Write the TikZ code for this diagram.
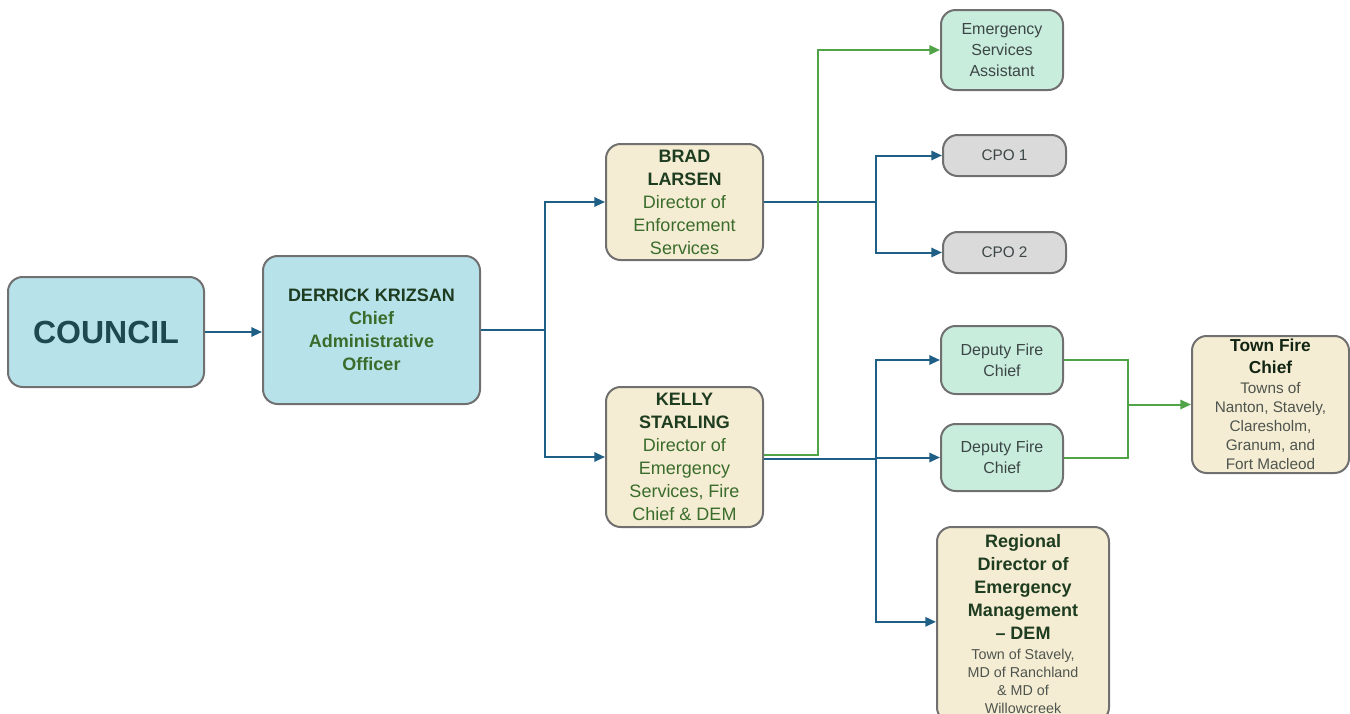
\documentclass[tikz,border=0pt]{standalone}
\usepackage{fontspec}
\setmainfont{Liberation Sans}
\usetikzlibrary{arrows.meta}

\definecolor{ceoblue}{RGB}{184,226,234}
\definecolor{dirbeige}{RGB}{245,237,211}
\definecolor{staffmint}{RGB}{201,237,221}
\definecolor{cpogray}{RGB}{218,218,218}
\definecolor{boxedge}{RGB}{112,112,112}
\definecolor{linkblue}{RGB}{31,95,134}
\definecolor{linkgreen}{RGB}{80,163,70}
\definecolor{namegreen}{RGB}{30,60,32}
\definecolor{rolegreen}{RGB}{58,108,44}
\definecolor{councilink}{RGB}{28,72,78}
\definecolor{staffink}{RGB}{60,70,70}
\definecolor{noteink}{RGB}{78,84,78}

\begin{document}
\begin{tikzpicture}[
        x=0.75pt,
        y=-0.75pt,
        every node/.style={align=center,inner sep=0pt},
        org box/.style={draw=boxedge,line width=1.5pt,rounded corners=11pt},
        cao box/.style={org box,fill=ceoblue},
        director box/.style={org box,fill=dirbeige,minimum width=117.75pt},
        staff box/.style={org box,fill=staffmint,minimum width=91.5pt,text=staffink,
            font=\fontsize{12}{16}\selectfont},
        cpo box/.style={org box,fill=cpogray,minimum width=92.25pt,minimum height=30.75pt,
            text=staffink,font=\fontsize{11.5}{14}\selectfont},
        big/.style={font=\fontsize{13.5}{17.25}\selectfont},
        blue line/.style={linkblue,line width=1.5pt},
        green line/.style={linkgreen,line width=1.5pt},
        blue arrow/.style={blue line,-{Triangle[length=8pt,width=7pt]}},
        green arrow/.style={green line,-{Triangle[length=8pt,width=7pt]}}
    ]
        \useasboundingbox (0,0) rectangle (1350,714);
        \clip (0,0) rectangle (1350,714);

        \node[cao box,minimum width=147pt,minimum height=82.5pt,text=councilink,
            font=\fontsize{24}{28}\selectfont\bfseries] (council) at (106,332) {COUNCIL};
        \node[cao box,big,minimum width=162.75pt,minimum height=111pt] (cao) at (371.5,330)
            {\textbf{\color{namegreen}DERRICK KRIZSAN}\\ \color{rolegreen}\bfseries Chief\\
             \color{rolegreen}\bfseries Administrative\\ \color{rolegreen}\bfseries Officer};

        \node[director box,big,minimum height=87pt] (brad) at (684.5,202)
            {\textbf{\color{namegreen}BRAD}\\ \textbf{\color{namegreen}LARSEN}\\
             \color{rolegreen}Director of\\ \color{rolegreen}Enforcement\\ \color{rolegreen}Services};
        \node[director box,big,minimum height=105pt] (kelly) at (684.5,457)
            {\textbf{\color{namegreen}KELLY}\\ \textbf{\color{namegreen}STARLING}\\
             \color{rolegreen}Director of\\ \color{rolegreen}Emergency\\
             \color{rolegreen}Services, Fire\\ \color{rolegreen}Chief \& DEM};

        \node[staff box,minimum height=60pt] (esa) at (1002,50) {Emergency\\ Services\\ Assistant};
        \node[cpo box] (cpo1) at (1004.5,155.5) {CPO 1};
        \node[cpo box] (cpo2) at (1004.5,252.5) {CPO 2};
        \node[staff box,minimum height=51pt] (dep1) at (1002,360) {Deputy Fire\\ Chief};
        \node[staff box,minimum height=50.25pt] (dep2) at (1002,457.5) {Deputy Fire\\ Chief};

        \node[director box,minimum height=102.75pt,font=\fontsize{11.5}{14.25}\selectfont]
            (tfc) at (1270.5,404.5)
            {{\fontsize{13}{16}\selectfont\bfseries\color{namegreen!60!black}Town Fire}\\[2.25pt]
             {\fontsize{13}{16}\selectfont\bfseries\color{namegreen!60!black}Chief}\\[0.5pt]
             \color{noteink}Towns of\\ \color{noteink}Nanton, Stavely,\\
             \color{noteink}Claresholm,\\ \color{noteink}Granum, and\\ \color{noteink}Fort Macleod};
        \node[director box,minimum width=129pt,minimum height=146.25pt,
            font=\fontsize{10.75}{13.5}\selectfont] (rdem) at (1023,624.5)
            {{\fontsize{13.5}{16}\selectfont\bfseries\color{namegreen}Regional}\\[3.75pt]
             {\fontsize{13.5}{16}\selectfont\bfseries\color{namegreen}Director of}\\[3.75pt]
             {\fontsize{13.5}{16}\selectfont\bfseries\color{namegreen}Emergency}\\[3.75pt]
             {\fontsize{13.5}{16}\selectfont\bfseries\color{namegreen}Management}\\[3.75pt]
             {\fontsize{13.5}{16}\selectfont\bfseries\color{namegreen}-- DEM}\\[1.5pt]
             \color{noteink}Town of Stavely,\\ \color{noteink}MD of Ranchland\\
             \color{noteink}\& MD of\\ \color{noteink}Willowcreek};

        \coordinate (cao split) at (545,330);
        \coordinate (cpo split) at (876,202);
        \coordinate (esa turn) at (818,455);
        \coordinate (fire split) at (876,459);
        \coordinate (chief join) at (1128,404.5);

        \draw[blue arrow] (council.east) -- (council.east -| cao.west);
        \draw[blue line] (cao.east) -- (cao split);
        \foreach \dir in {brad,kelly}
            \draw[blue arrow] (cao split) |- (\dir.west);

        \draw[blue line] (brad.east) -- (cpo split);
        \foreach \cpo in {cpo1,cpo2}
            \draw[blue arrow] (cpo split) |- (\cpo.west);

        \draw[green arrow] (kelly.east |- esa turn) -- (esa turn) |- (esa.west);
        \draw[blue line] (kelly.east |- fire split) -- (fire split);
        \foreach \dep in {dep1,dep2}
            \draw[blue arrow] (fire split) |- (\dep.west);
        \draw[blue arrow] (fire split) |- ([yshift=2pt]rdem.west);

        \foreach \dep in {dep1,dep2}
            \draw[green line] (\dep.east) -| (chief join);
        \draw[green arrow] (chief join) -- (tfc.west);
    \end{tikzpicture}
\end{document}
